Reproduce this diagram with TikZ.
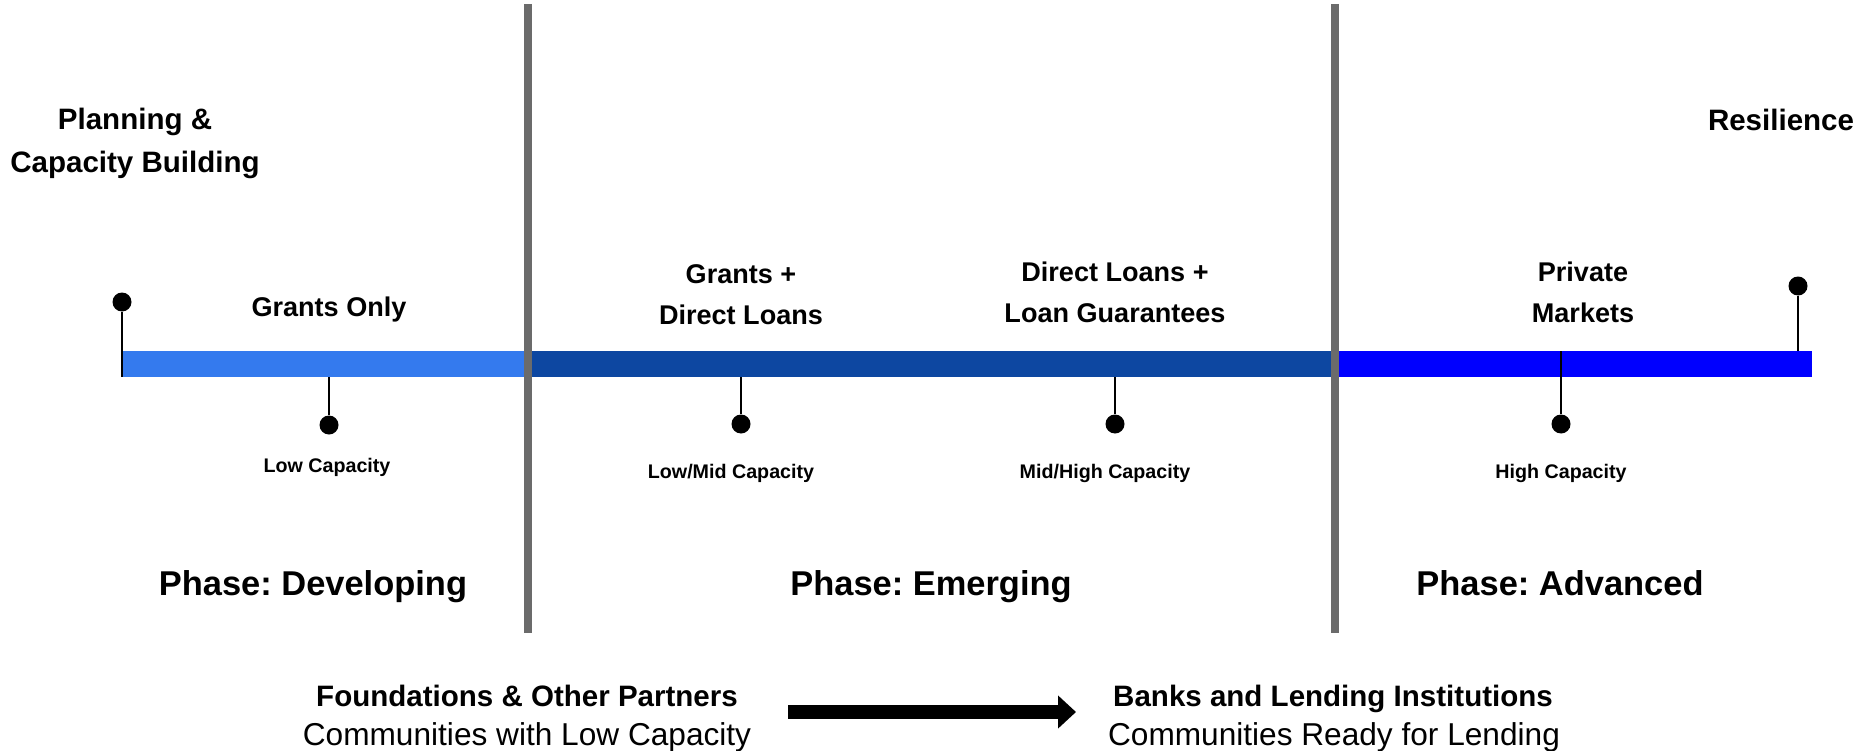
\documentclass[tikz,border=0pt]{standalone}
\usepackage{fontspec}
\setmainfont{Liberation Sans}
\usepackage{tikz}
\usetikzlibrary{positioning}
\usetikzlibrary{arrows.meta}
\definecolor{barlight}{RGB}{52,122,238}
\definecolor{bardark}{RGB}{13,71,161}
\definecolor{barblue}{RGB}{0,0,255}
\definecolor{divgray}{RGB}{107,107,107}
\frenchspacing

\tikzset{
  endlabel/.style={font=\bfseries\fontsize{8.4}{12.2}\selectfont, align=center},
  stage/.style={font=\bfseries\fontsize{7.7}{11.6}\selectfont, align=center},
  caplabel/.style={font=\bfseries\fontsize{5.6}{7}\selectfont},
  phase/.style={font=\bfseries\fontsize{9.8}{12}\selectfont, anchor=base},
  funder/.style={font=\bfseries\fontsize{8.4}{10}\selectfont, anchor=base},
  community/.style={font=\fontsize{9}{10}\selectfont, anchor=base},
  pin/.style={circle, fill=black, inner sep=0pt, minimum size=1.9mm},
  stem/.style={line width=0.2mm},
  divider/.style={divgray, line width=0.8mm},
}

\begin{document}
\begin{tikzpicture}[x=0.1mm, y=-0.1mm]
        \useasboundingbox (0,0) rectangle (1864,750);

        \fill[barlight] (122,351) rectangle (528,377);
        \fill[bardark] (528,351) rectangle (1332,377);
        \fill[barblue] (1332,351) rectangle (1812,377);

        \draw[divider] (528,4) -- (528,633);
        \draw[divider] (1335,4) -- (1335,633);

        \node[endlabel] (plan) at (135,143) {Planning \&\\Capacity Building};
        \node[endlabel] (resil) at (1781,120) {Resilience};

        \node[pin] (start) at (122,302) {};
        \coordinate (startbar) at (122,377);
        \draw[stem] (start) -- (startbar);
        \node[pin] (finish) at (1798,286) {};
        \coordinate (finishbar) at (1798,351);
        \draw[stem] (finish) -- (finishbar);

        \node[stage] (grants) at (329,310) {Grants Only};
        \node[stage] (grantsloans) at (741,295) {Grants +\\Direct Loans};
        \node[stage] (loansguar) at (1115,292) {Direct Loans +\\Loan Guarantees};
        \node[stage] (private) at (1583,292) {Private\\Markets};

        \node[pin] (lowpin) at (329,425) {};
        \coordinate (lowbar) at (329,377);
        \draw[stem] (lowbar) -- (lowpin);
        \node[pin] (lowmidpin) at (741,424) {};
        \coordinate (lowmidbar) at (741,377);
        \draw[stem] (lowmidbar) -- (lowmidpin);
        \node[pin] (midhighpin) at (1115,424) {};
        \coordinate (midhighbar) at (1115,377);
        \draw[stem] (midhighbar) -- (midhighpin);
        \node[pin] (highpin) at (1561,424) {};
        \coordinate (highbar) at (1561,351);
        \draw[stem] (highbar) -- (highpin);

        \node[caplabel] (low) at (327,467) {Low Capacity};
        \node[caplabel] (lowmid) at (731,473) {Low/Mid Capacity};
        \node[caplabel] (midhigh) at (1105,473) {Mid/High Capacity};
        \node[caplabel] (high) at (1561,473) {High Capacity};

        \node[phase] (developing) at (313,595) {Phase: Developing};
        \node[phase] (emerging) at (931,595) {Phase: Emerging};
        \node[phase] (advanced) at (1560,595) {Phase: Advanced};

        \node[funder] (found) at (527,706) {Foundations \& Other Partners};
        \node[community] (foundsub) at (527,745) {Communities with Low Capacity};
        \node[funder] (banks) at (1333,706) {Banks and Lending Institutions};
        \node[community] (bankssub) at (1334,745) {Communities Ready for Lending};

        \coordinate (arrfrom) at (788,712);
        \coordinate (arrto) at (1076,712);
        \draw[line width=1.4mm, -{Triangle[length=1.8mm, width=3.2mm]}] (arrfrom) -- (arrto);
    \end{tikzpicture}
\end{document}
